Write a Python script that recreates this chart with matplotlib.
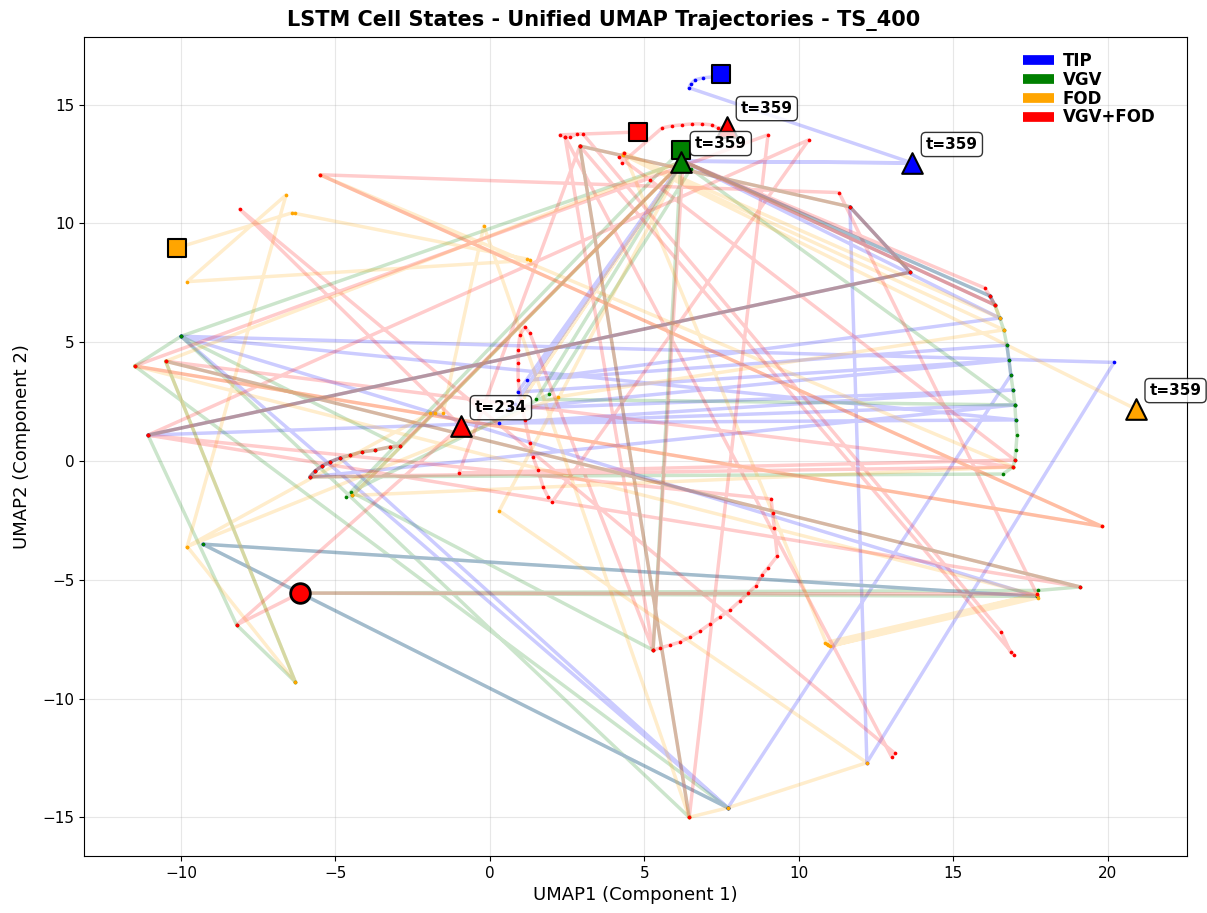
import numpy as np
import matplotlib.pyplot as plt
from matplotlib.lines import Line2D

# UMAP coordinates of the LSTM cell-state trajectories (vertices of each path)
tip_x = [7.48, 7.22, 6.89, 6.63, 6.50, 6.44, 13.66, 6.25, 0.9, 16.80, 0.6, 16.93, 0.3, 17.02,
         -10.0, 20.2, 12.2, 11.65, 13.6, -11.07, 16.99, -5.83, -5.66, -5.44, -5.18, -4.85,
         7.7, -9.3, 17.7, -10.0, 7.7, 16.86, 16.73, 1.2, 16.50, 6.25, 0.8, 6.25, 16.34, 16.18,
         6.25, 13.66]
tip_y = [16.29, 16.17, 16.13, 16.04, 15.87, 15.71, 12.55, 12.62, 2.9, 4.25, 2.2, 2.99, 1.6, 1.73,
         5.25, 4.15, -12.7, 10.7, 7.95, 1.09, 2.36, -0.67, -0.42, -0.21, -0.04, 0.13,
         -14.6, -3.5, -5.7, 5.25, -14.6, 3.62, 4.88, 3.4, 6.02, 12.62, 2.4, 12.62, 6.57, 6.95,
         12.62, 12.55]

vgv_x = [6.18, -4.65, -4.45, 6.25, 16.18, 16.34, 16.50, 16.63, 16.73, 16.80, 16.86, 16.93, 16.99,
         17.02, 17.06, 17.02, 16.99, 16.93, 16.6, -5.83, -5.66, -5.44, -5.18, -4.85, -4.53, -4.14,
         -3.72, -3.24, -2.91, -10.0, -11.5, 7.7, -9.3, 17.7, -6.15, 17.75, 19.1, -10.5, -6.3,
         -8.2, -11.07, 13.6, 11.65, 2.91, 6.45, -10.0, 6.25, 1.5, 16.99, 6.5, 1.9, -4.5,
         5.28, 6.18]
vgv_y = [13.09, -1.5, -1.45, 12.62, 6.95, 6.57, 6.02, 5.52, 4.88, 4.25, 3.62, 2.99, 2.36,
         1.73, 1.09, 0.46, 0.04, -0.25, -0.55, -0.67, -0.42, -0.21, -0.04, 0.13, 0.25, 0.38,
         0.46, 0.59, 0.63, 5.25, 4.0, -14.6, -3.5, -5.7, -5.56, -5.45, -5.3, 4.2, -9.3,
         -6.9, 1.09, 7.95, 10.7, 13.26, -15.0, 5.25, 12.62, 2.6, 2.36, 12.3, 2.8, -1.3,
         -7.96, 12.59]

fod_x = [-10.13, -6.4, -6.3, 1.2, 1.3, -9.8, -6.6, -9.8, -1.94, -1.78, -1.52, -0.2, 6.45, 7.7,
         12.2, 0.3, 6.25, 16.34, 16.50, 4.34, 10.9, 10.95, 17.7, 10.85, 17.75, 11.0, 17.7,
         -11.5, 19.8, -5.5, 16.93, -4.45, 6.25, 1.1, 6.25, -10.5, -6.3, -9.8, 2.2,
         16.63, 4.3, 20.9]
fod_y = [8.97, 10.45, 10.42, 8.5, 8.45, 7.55, 11.2, -3.6, 2.02, 2.02, 2.02, 9.9, -15.0, -14.6,
         -12.7, -2.1, 12.62, 6.57, 6.02, 12.97, -7.7, -7.75, -5.6, -7.65, -5.75, -7.8, -5.65,
         4.0, -2.75, 12.05, -0.25, -1.45, 12.62, 2.7, 12.62, 4.2, -9.3, -3.6, 2.7,
         5.52, 12.9, 2.19]

vgvfod_x = [4.79, 2.27, 2.43, 2.59, 2.82, 3.01, 16.55, 16.85, 16.95, 2.91, 6.45, 9.0, -11.5,
            19.8, -5.5, 11.3, 17.7, -6.15, -8.2, -0.94, -8.1, 13.1, 13.0, 2.43,
            5.28, 5.50, 5.83, 6.15, 6.47, 6.80, 7.12, 7.44, 7.77, 8.09, 8.35, 8.61, 8.80, 8.99,
            9.3, 9.2, 9.15, 9.1, -11.07, 10.32,
            2.01, 1.88, 1.72, 1.55, 1.39, 1.29, 1.13, 1.00, 0.91, 0.91, 0.91, 0.97, 1.13, 1.29,
            5.28, 6.25, 16.02, 16.18, 16.34, 6.25, -2.91, -3.24, -3.72, -4.14, -4.53,
            -4.85, -5.18, -5.44, -5.66, -5.83, 16.93, -10.5, 19.1, -11.07, 13.6, 11.65, 2.91,
            -1.0, 16.99, 5.18, 4.17, 4.34, 4.27, 5.57, 5.89, 6.21, 6.54, 6.86, 7.18, 7.38, 7.67]
vgvfod_y = [13.85, 13.73, 13.64, 13.64, 13.77, 13.77, -7.2, -8.05, -8.15, 13.26, -15.0, 13.73, 4.0,
            -2.75, 12.05, 11.3, -5.6, -5.56, -6.9, 1.47, 10.6, -12.3, -12.45, 13.64,
            -7.96, -7.87, -7.75, -7.62, -7.41, -7.16, -6.86, -6.57, -6.27, -5.89, -5.56, -5.26,
            -4.80, -4.51, -4.0, -2.8, -2.2, -1.6, 1.09, 13.52,
            -1.73, -1.52, -1.09, -0.38, 0.17, 0.76, 1.73, 2.57, 3.41, 4.13, 4.67, 5.31, 5.64, 5.39,
            -7.96, 12.62, 7.28, 6.95, 6.57, 12.62, 0.63, 0.59, 0.46, 0.38, 0.25,
            0.13, -0.04, -0.21, -0.42, -0.67, -0.25, 4.2, -5.3, 1.09, 7.95, 10.7, 13.26,
            -0.5, 0.04, 11.83, 12.8, 12.97, 12.55, 14.02, 14.11, 14.15, 14.19, 14.19, 14.15, 14.02, 14.06]

conditions = ['TIP', 'VGV', 'FOD', 'VGV+FOD']
colors = ['blue', 'green', 'orange', 'red']
paths = [(tip_x, tip_y), (vgv_x, vgv_y), (fod_x, fod_y), (vgvfod_x, vgvfod_y)]
last_t = 359

# extra markers on the VGV+FOD run
mark_t = 234
mark_xy = (-0.94, 1.47)
circle_xy = (-6.15, -5.56)

fig, ax = plt.subplots(figsize=(12.07, 9.13), dpi=100)
fig.subplots_adjust(left=0.0696, right=0.9834, top=0.9595, bottom=0.0624)

label_box = dict(boxstyle='round,pad=0.3', facecolor='white', edgecolor='black', alpha=0.8)

for (xs, ys), c in zip(paths, colors):
    ax.plot(xs, ys, color=c, alpha=0.2, linewidth=2.5, zorder=2)
    ax.scatter(xs, ys, color=c, s=7, zorder=3, linewidths=0)

for (xs, ys), c in zip(paths, colors):
    ax.scatter(xs[0], ys[0], marker='s', s=170, color=c, edgecolor='black', linewidth=1.5, zorder=6)
    ax.scatter(xs[-1], ys[-1], marker='^', s=220, color=c, edgecolor='black', linewidth=1.5, zorder=6)
    ax.annotate(f't={last_t}', (xs[-1], ys[-1]), xytext=(10, 10), textcoords='offset points',
                fontsize=11, fontweight='bold', zorder=7, bbox=label_box)

ax.scatter(*mark_xy, marker='^', s=220, color='red', edgecolor='black', linewidth=1.5, zorder=6)
ax.annotate(f't={mark_t}', mark_xy, xytext=(10, 10), textcoords='offset points',
            fontsize=11, fontweight='bold', zorder=7, bbox=label_box)
ax.scatter(*circle_xy, marker='o', s=200, color='red', edgecolor='black', linewidth=2, zorder=6)

handles = [Line2D([0], [0], color=c, linewidth=7, solid_capstyle='butt') for c in colors]
ax.legend(handles, conditions, loc='upper right', bbox_to_anchor=(0.985, 1.0), frameon=False,
          prop={'weight': 'bold', 'size': 12}, labelspacing=0.05, handlelength=1.9,
          handletextpad=0.5)

ax.set_xlim(-13.14, 22.56)
ax.set_ylim(-16.63, 17.85)
ax.grid(True, alpha=0.3)
ax.tick_params(labelsize=11)
ax.set_xlabel('UMAP1 (Component 1)', fontsize=13)
ax.set_ylabel('UMAP2 (Component 2)', fontsize=13, labelpad=8)
fig.suptitle('LSTM Cell States - Unified UMAP Trajectories - TS_400', fontsize=15,
             fontweight='bold', y=0.978, va='center')

plt.savefig('out.png', dpi=100)
